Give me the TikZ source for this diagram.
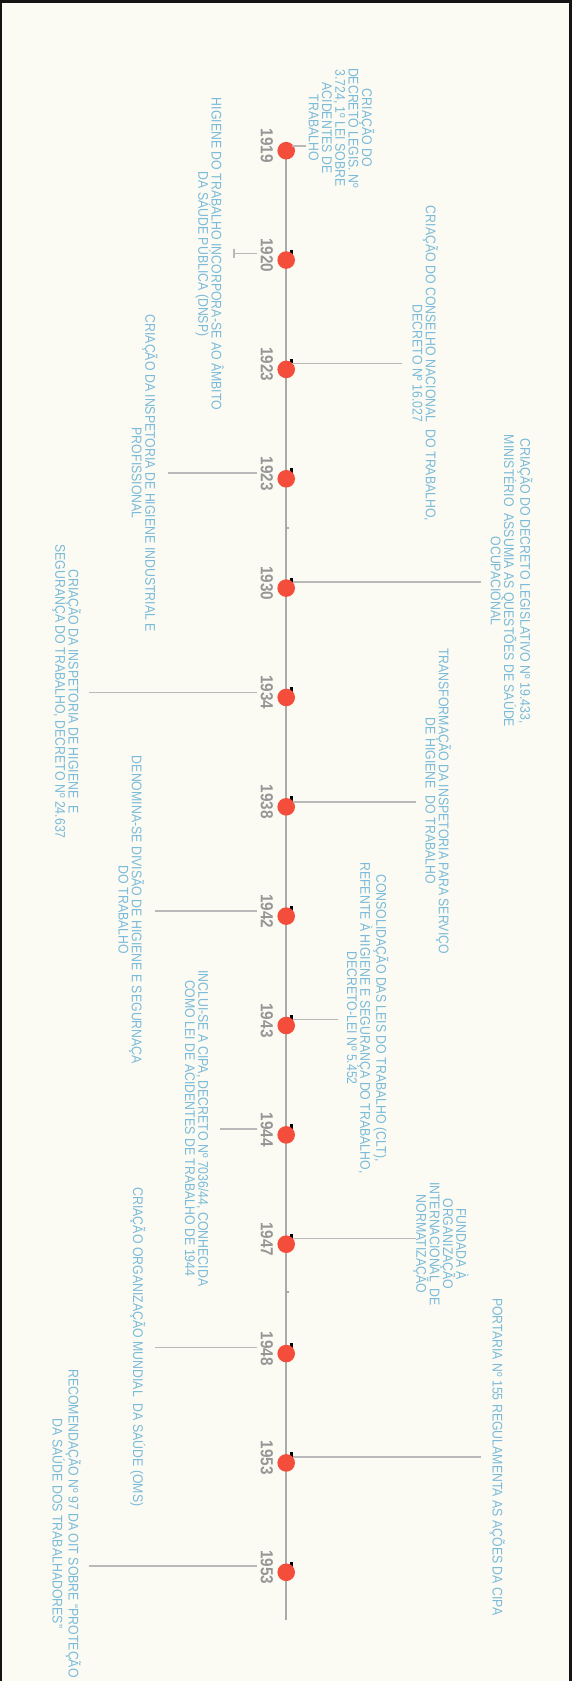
\documentclass[tikz,border=0pt]{standalone}
\usepackage{fontspec}
\setmainfont{Liberation Sans}
\newfontfamily\evfont[FakeStretch=0.88]{Liberation Sans}
\newfontfamily\yrfont[FakeStretch=0.88]{Liberation Sans}
\definecolor{bgc}{RGB}{251,251,244}
\definecolor{evblue}{RGB}{122,186,216}
\definecolor{yrgray}{RGB}{150,150,150}
\definecolor{axgray}{RGB}{170,170,170}
\definecolor{cngray}{RGB}{185,185,185}
\definecolor{dotred}{RGB}{244,77,60}
\definecolor{frame}{RGB}{20,20,20}
\begin{document}
\begin{tikzpicture}[x=1pt,y=-1pt,
  ev/.style={font=\evfont\fontsize{14}{13.3}\selectfont, text=evblue, align=center, rotate=-90, inner sep=0pt},
  yr/.style={font=\yrfont\bfseries\fontsize{17.4}{18}\selectfont, text=yrgray, rotate=-90, inner sep=0pt},
  evdot/.style={circle, fill=dotred, minimum size=17.6pt, inner sep=0pt},
  conn/.style={draw=cngray, line width=1.6pt},
  axisline/.style={draw=axgray, line width=2pt},
  blk/.style={fill=black},
  tinytick/.style={fill=axgray}]
\useasboundingbox (0,0) rectangle (572,1681);
\fill[bgc] (0,0) rectangle (572,1681);
\draw[frame, line width=3pt] (0,1.5) -- (572,1.5);
\draw[frame, line width=2.5pt] (1.2,0) -- (1.2,1681);
\draw[frame, line width=3pt] (570.5,0) -- (570.5,1681);

% axis
\coordinate (axtop) at (286,150.7);
\coordinate (axend) at (286,1620);
\draw[axisline] (axtop) -- (axend);
\fill[tinytick] (286.5,526.5) rectangle (288.7,528.7);
\fill[tinytick] (286.5,1291) rectangle (288.7,1293.2);

% black marks
\foreach \i/\dy in {1/260.05,2/369.4,3/478.75,4/588.1,5/697.45,6/806.8,7/916.15,8/1025.5,9/1134.85,10/1244.2,11/1353.55,12/1462.9,13/1572.25}
  \fill[blk] (290,\dy-10.5) rectangle (293,\dy-5);

% dots and years
\foreach \i/\dy/\yy in {0/150.7/1919,1/260.05/1920,2/369.4/1923,3/478.75/1923,4/588.1/1930,5/697.45/1934,6/806.8/1938,7/916.15/1942,8/1025.5/1943,9/1134.85/1944,10/1244.2/1947,11/1353.55/1948,12/1462.9/1953,13/1572.25/1953}{
  \node[evdot] (d\i) at (286.2,\dy) {};
  \node[yr] (y\i) at (266.8,\dy-5) {\yy};
}

% events
\node[ev] (t0) at (341.5,128) {CRIAÇÃO DO\\DECRETO LEGIS. Nº\\3.724, 1º LEI SOBRE\\ACIDENTES DE\\TRABALHO};
\coordinate (a0) at (292,145.7); \coordinate (b0) at (306,145.7);
\draw[conn] (a0) -- (b0);

\node[ev] (t1) at (209.6,254) {HIGIENE DO TRABALHO INCORPORA-SE AO ÂMBITO\\DA SÁUDE PÚBLICA (DNSP)};
\coordinate (a1) at (233.3,253.3); \coordinate (b1) at (256.7,253.3);
\draw[conn] (a1) -- (b1);
\coordinate (k1a) at (234,248.5); \coordinate (k1b) at (234,257.5);
\draw[conn] (k1a) -- (k1b);

\node[ev] (t2) at (425.3,363.6) {CRIAÇÃO DO CONSELHO NACIONAL\ \ DO TRABALHO,\\DECRETO Nº 16.027};
\coordinate (a2) at (292,363.3); \coordinate (b2) at (401.7,363.3);
\draw[conn] (a2) -- (b2);

\node[ev] (t3) at (144.7,473.3) {CRIAÇÃO DA INSPETORIA DE HIGIENE INDUSTRIAL E\\PROFISSIONAL};
\coordinate (a3) at (167.7,472.7); \coordinate (b3) at (256.7,472.7);
\draw[conn] (a3) -- (b3);

\node[ev] (t4) at (511.7,581) {CRIAÇÃO DO DECRETO LEGISLATIVO Nº 19.433,\\MINISTÉRIO\ \ ASSUMIA AS QUESTÕES DE SAÚDE\\OCUPACIONAL};
\coordinate (a4) at (293,582); \coordinate (b4) at (480.7,582);
\draw[conn] (a4) -- (b4);

\node[ev] (t5) at (66.7,691.5) {CRIAÇÃO DA INSPETORIA DE HIGIENE\ \ E\\SEGURANÇA DO TRABALHO, DECRETO Nº 24.637};
\coordinate (a5) at (89.3,692.3); \coordinate (b5) at (256.7,692.3);
\draw[conn] (a5) -- (b5);

\node[ev] (t6) at (438.3,801) {TRANSFORMAÇÃO DA INSPETORIA PARA SERVIÇO\\DE HIGIENE\ \ DO TRABALHO};
\coordinate (a6) at (293,801.7); \coordinate (b6) at (416,801.7);
\draw[conn] (a6) -- (b6);

\node[ev] (t7) at (131.3,910) {DENOMINA-SE DIVISÃO DE HIGIENE E SEGURNAÇA\\DO TRABALHO};
\coordinate (a7) at (155,910.7); \coordinate (b7) at (256.7,910.7);
\draw[conn] (a7) -- (b7);

\node[ev] (t8) at (367.8,1018) {CONSOLIDAÇÃO DAS LEIS DO TRABALHO (CLT),\\REFENTE À HIGIENE E SEGURANÇA DO TRABALHO,\\DECRETO-LEI Nº 5.452};
\coordinate (a8) at (293,1019.3); \coordinate (b8) at (337.7,1019.3);
\draw[conn] (a8) -- (b8);

\node[ev] (t9) at (196.7,1128.3) {INCLUI-SE A CIPA, DECRETO Nº 7036/44, CONHECIDA\\COMO LEI DE ACIDENTES DE TRABALHO DE 1944};
\coordinate (a9) at (220,1129); \coordinate (b9) at (256.7,1129);
\draw[conn] (a9) -- (b9);

\node[ev] (t10) at (441,1244) {FUNDADA À\\ORGANIZAÇÃO\\INTERNACIONAL\ \ DE\\NORMATIZAÇÃO};
\coordinate (a10) at (293,1238.3); \coordinate (b10) at (416,1238.3);
\draw[conn] (a10) -- (b10);

\node[ev] (t11) at (137.7,1347) {CRIAÇÃO ORGANIZAÇÃO MUNDIAL\ \ DA SAÚDE (OMS)};
\coordinate (a11) at (155,1347.3); \coordinate (b11) at (256.7,1347.3);
\draw[conn] (a11) -- (b11);

\node[ev] (t12) at (497.3,1456.7) {PORTARIA Nº 155 REGULAMENTA AS AÇÕES DA CIPA};
\coordinate (a12) at (293,1456.7); \coordinate (b12) at (480.7,1456.7);
\draw[conn] (a12) -- (b12);

\node[ev] (t13) at (66.7,1523.5) {RECOMENDAÇÃO Nº 97 DA OIT SOBRE “PROTEÇÃO\\DA SAÚDE DOS TRABALHADORES”};
\coordinate (a13) at (89.3,1565.7); \coordinate (b13) at (256.7,1565.7);
\draw[conn] (a13) -- (b13);
\end{tikzpicture}
\end{document}
